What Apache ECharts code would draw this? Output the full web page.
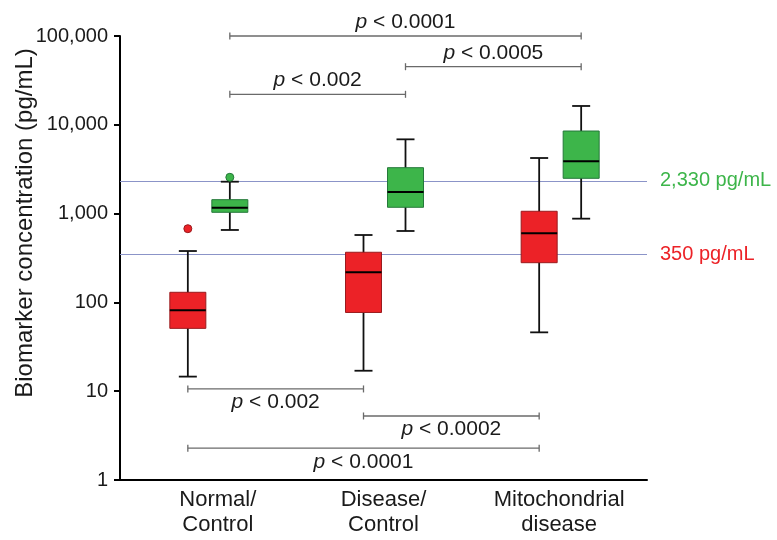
<!DOCTYPE html>
<html><head><meta charset="utf-8">
<script src="https://cdn.jsdelivr.net/npm/echarts@6/dist/echarts.min.js"></script>
<style>html,body{margin:0;padding:0;background:#fff}#c{width:777px;height:540px}</style>
</head><body><div id="c"></div>
<script>
// ---- data ----
const categories = ['Normal/\nControl', 'Disease/\nControl', 'Mitochondrial\ndisease'];
// box values: [min, Q1, median, Q3, max]  (pg/mL)
const redBoxes   = [[14.6, 51, 81.5, 130, 379], [17, 77, 218, 367, 574], [46, 280, 600, 1062, 4227]];
const greenBoxes = [[654, 1034, 1165, 1435, 2287], [637, 1178, 1750, 3290, 6860], [877, 2497, 3880, 8510, 16290]];
// outliers: [category index, value]
const redOutliers   = [[0, 676]];
const greenOutliers = [[0, 2564]];
// cut-off lines
const cutoffValues = [350, 2330];
const cutoffLabels = ['350 pg/mL', '2,330 pg/mL'];
// significance brackets
const bracketFrom  = [0, 1, 0, 0, 1, 0];
const bracketTo    = [2, 2, 1, 1, 2, 2];
const bracketLevel = [100000, 45100, 22050, 10.6, 5.26, 2.28];
const bracketGroup = ['green', 'green', 'green', 'red', 'red', 'red'];
const bracketP     = ['0.0001', '0.0005', '0.002', '0.002', '0.0002', '0.0001'];

// ---- styles ----
const FONT = 'Liberation Sans, Arial, Helvetica, sans-serif';
const RED = '#ec2227', RED_DARK = '#9a1b1e', GREEN = '#3db54a', GREEN_DARK = '#25793a';
const TXT = '#1a1a1a';
const OFF = { red: -20, green: 22 };

function boxRender(offset, fill, stroke) {
  return function (params, api) {
    const c = api.value(0);
    const cx = api.coord([c, 1])[0] + offset;
    const yy = k => api.coord([c, api.value(k)])[1];
    const yMin = yy(1), yQ1 = yy(2), yMed = yy(3), yQ3 = yy(4), yMax = yy(5);
    const hw = 18, cw = 9;
    const ls = { stroke: '#111', lineWidth: 1.8 };
    return {
      type: 'group',
      children: [
        { type: 'line', shape: { x1: cx, y1: yMin, x2: cx, y2: yMax }, style: ls },
        { type: 'line', shape: { x1: cx - cw, y1: yMin, x2: cx + cw, y2: yMin }, style: ls },
        { type: 'line', shape: { x1: cx - cw, y1: yMax, x2: cx + cw, y2: yMax }, style: ls },
        { type: 'rect', shape: { x: cx - hw, y: yQ3, width: 2 * hw, height: yQ1 - yQ3 }, style: { fill: fill, stroke: stroke, lineWidth: 1 } },
        { type: 'line', shape: { x1: cx - hw, y1: yMed, x2: cx + hw, y2: yMed }, style: { stroke: '#000', lineWidth: 2 } }
      ]
    };
  };
}

function bracketRender(params, api) {
  const i = params.dataIndex;
  const off = OFF[bracketGroup[i]];
  const v = api.value(2);
  const p1 = api.coord([api.value(0), v]);
  const p2 = api.coord([api.value(1), v]);
  const x1 = p1[0] + off, x2 = p2[0] + off, y = p1[1];
  const above = bracketGroup[i] === 'green';
  const ls = { stroke: '#6a6a6a', lineWidth: 1.3 };
  return {
    type: 'group',
    children: [
      { type: 'line', shape: { x1: x1, y1: y, x2: x2, y2: y }, style: ls },
      { type: 'line', shape: { x1: x1, y1: y - 3.5, x2: x1, y2: y + 3.5 }, style: ls },
      { type: 'line', shape: { x1: x2, y1: y - 3.5, x2: x2, y2: y + 3.5 }, style: ls },
      {
        type: 'text', x: (x1 + x2) / 2, y: above ? y - 14 : y + 13.5,
        style: {
          text: '{i|p} < ' + bracketP[i],
          rich: { i: { fontStyle: 'italic', fontSize: 21, fontFamily: FONT, fill: TXT } },
          fontSize: 21, fontFamily: FONT, fill: TXT, align: 'center', verticalAlign: 'middle'
        }
      }
    ]
  };
}

const chart = echarts.init(document.getElementById('c'), null, { renderer: 'canvas' });
chart.setOption({
  animation: false,
  backgroundColor: '#fff',
  grid: { left: 120, right: 130, top: 36, bottom: 60, containLabel: false, outerBoundsMode: 'none' },
  xAxis: {
    type: 'category',
    data: categories.map((c, i) => i === 0 ? { value: c, textStyle: { padding: [0, 0, 0, 20] } } : c),
    boundaryGap: true,
    axisLine: { lineStyle: { color: '#000', width: 2 } },
    axisTick: { alignWithLabel: true, length: 6, lineStyle: { color: '#000', width: 2 } },
    axisLabel: { fontSize: 22, lineHeight: 25, color: TXT, margin: 7, interval: 0, fontFamily: FONT },
    splitLine: { show: false }
  },
  yAxis: {
    type: 'log', logBase: 10, min: 1, max: 100000,
    name: 'Biomarker concentration (pg/mL)', nameLocation: 'middle', nameGap: 83,
    nameMoveOverlap: false,
    nameTextStyle: { fontSize: 24, color: TXT, fontFamily: FONT, padding: [0, 0, 0, 70] },
    axisLine: { show: true, lineStyle: { color: '#000', width: 2 } },
    axisTick: { show: true, length: 6, lineStyle: { color: '#000', width: 2 } },
    axisLabel: { fontSize: 20, color: TXT, margin: 12, fontFamily: FONT,
      formatter: v => Math.round(v).toLocaleString('en-US') },
    splitLine: { show: false },
    minorTick: { show: false }
  },
  series: [
    {
      type: 'scatter', z: 1,
      data: [],
      markLine: {
        silent: true, symbol: 'none', z: 1,
        lineStyle: { color: '#8b94c8', width: 1.2, type: 'solid' },
        data: cutoffValues.map((v, i) => ({
          yAxis: v,
          label: { show: true, position: 'end', distance: 13, formatter: cutoffLabels[i],
            color: i === 0 ? RED : GREEN, fontSize: 20, fontFamily: FONT }
        }))
      }
    },
    {
      type: 'custom', name: 'red', z: 3, clip: false,
      renderItem: boxRender(OFF.red, RED, RED_DARK),
      encode: { x: 0, y: [1, 2, 3, 4, 5] },
      data: redBoxes.map((b, i) => [i].concat(b))
    },
    {
      type: 'custom', name: 'green', z: 3, clip: false,
      renderItem: boxRender(OFF.green, GREEN, GREEN_DARK),
      encode: { x: 0, y: [1, 2, 3, 4, 5] },
      data: greenBoxes.map((b, i) => [i].concat(b))
    },
    {
      type: 'scatter', z: 4, symbolSize: 8, symbolOffset: [OFF.red, 0],
      itemStyle: { color: RED, borderColor: RED_DARK, borderWidth: 1, opacity: 1 },
      data: redOutliers
    },
    {
      type: 'scatter', z: 4, symbolSize: 8, symbolOffset: [OFF.green, 0],
      itemStyle: { color: GREEN, borderColor: GREEN_DARK, borderWidth: 1, opacity: 1 },
      data: greenOutliers
    },
    {
      type: 'custom', z: 5, clip: false,
      renderItem: bracketRender,
      encode: { x: [0, 1], y: 2 },
      data: bracketFrom.map((f, i) => [f, bracketTo[i], bracketLevel[i]])
    }
  ]
});
</script>
</body></html>
